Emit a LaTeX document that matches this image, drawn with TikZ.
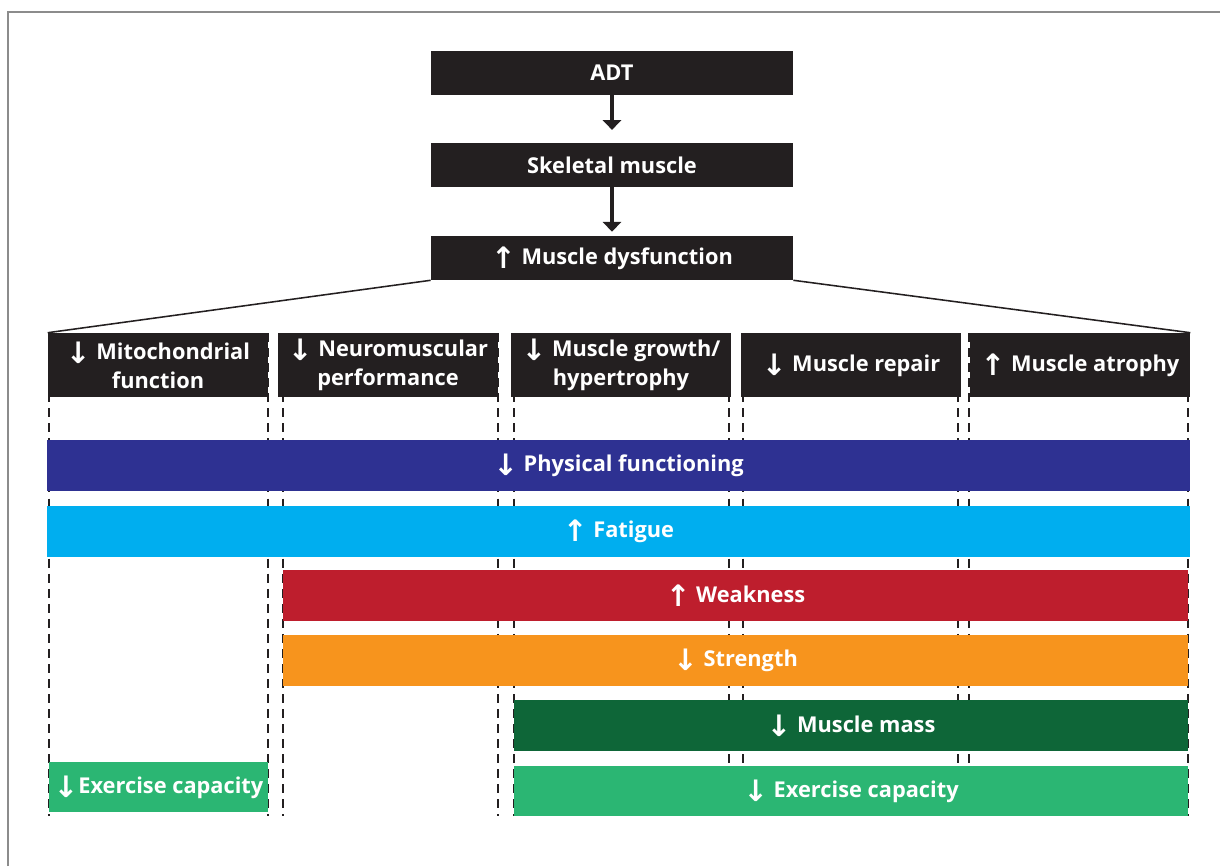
\documentclass[tikz,border=0pt]{standalone}
\usepackage{fontspec}
\setsansfont{Open Sans}
\newfontfamily\arrowfont{DejaVu Sans}
\usetikzlibrary{arrows.meta,positioning,calc}

\definecolor{boxblack}{HTML}{231F20}
\definecolor{framegray}{HTML}{8C8C8C}
\definecolor{physblue}{HTML}{2E3192}
\definecolor{fatiguecyan}{HTML}{00AEEF}
\definecolor{weakred}{HTML}{BE1E2D}
\definecolor{strengthorange}{HTML}{F7941D}
\definecolor{massgreen}{HTML}{0E6638}
\definecolor{exercisegreen}{HTML}{2BB673}

\newcommand{\arrdown}{\raisebox{-0.35ex}{\arrowfont\fontsize{21}{21}\selectfont\char"2193}}
\newcommand{\arrup}{\raisebox{-0.35ex}{\arrowfont\fontsize{21}{21}\selectfont\char"2191}}

\begin{document}
\begin{tikzpicture}[
    x=0.025cm, y=-0.025cm,
    every node/.style={font=\sffamily\bfseries\fontsize{15.5}{20.6}\selectfont, text=white, inner sep=0pt},
    topbox/.style={fill=boxblack, minimum width=9.05cm, minimum height=1.1cm},
    colbox/.style={fill=boxblack, minimum width=5.5cm, minimum height=1.6cm, align=center},
    bar/.style={minimum height=1.275cm},
    guide/.style={draw=boxblack, line width=1.8pt, dash pattern=on 6.4pt off 4.3pt},
    arrow/.style={-{Triangle[width=13pt,length=7pt]}, line width=2.4pt, draw=boxblack}
]
\useasboundingbox (0,0) rectangle (1220,866);

% Frame
\draw[framegray, line width=1.5pt] (8,866) -- (8,12) -- (1220,12);

% Top chain
\node[topbox] (adt) at (612,73) {ADT};
\node[topbox] (skel) at (612,165) {Skeletal muscle};
\node[topbox] (dys) at (612,258) {\arrup\ Muscle dysfunction};

\draw[arrow, shorten >=0.32cm] (adt) -- (skel);
\draw[arrow, shorten >=0.1cm] (skel) -- (dys);

% Guides (behind boxes and bars)
\coordinate (bottom) at (0,816);
\foreach \x in {49,268,283,498,514,729,743,958,969,1188} {
  \draw[guide] (\x,333) -- (\x,0 |- bottom);
}

% Mechanisms
\node[colbox] (mito) at (158,365) {\arrdown\ Mitochondrial\\function};
\node[colbox] (neuro) at (388,365) {\arrdown\ Neuromuscular\\performance};
\node[colbox] (growth) at (621,365) {\arrdown\ Muscle growth/\\hypertrophy};
\node[colbox] (repair) at (851,365) {\arrdown\ Muscle repair};
\node[colbox] (atrophy) at (1080,365) {\arrup\ Muscle atrophy};

\draw[boxblack, line width=1.1pt] (dys.south west) -- (mito.north west);
\draw[boxblack, line width=1.1pt] (dys.south east) -- (atrophy.north east);

% Outcomes
\node[bar, fill=physblue, minimum width=28.55cm] (phys) at (618.5,465.5) {\arrdown\ Physical functioning};
\node[bar, fill=fatiguecyan, minimum width=28.55cm] (fatigue) at (618.5,531.5) {\arrup\ Fatigue};
\node[bar, fill=weakred, minimum width=22.625cm] (weak) at (735.5,595.5) {\arrup\ Weakness};
\node[bar, fill=strengthorange, minimum width=22.625cm] (strength) at (735.5,660.5) {\arrdown\ Strength};
\node[bar, fill=massgreen, minimum width=16.85cm] (mass) at (851,725.5) {\arrdown\ Muscle mass};
\node[bar, fill=exercisegreen, minimum width=5.475cm, minimum height=1.25cm] (exleft) at (158.5,787) {\arrdown Exercise capacity};
\node[bar, fill=exercisegreen, minimum width=16.85cm, minimum height=1.25cm] (exright) at (851,791) {\arrdown\ Exercise capacity};

\end{tikzpicture}
\end{document}
